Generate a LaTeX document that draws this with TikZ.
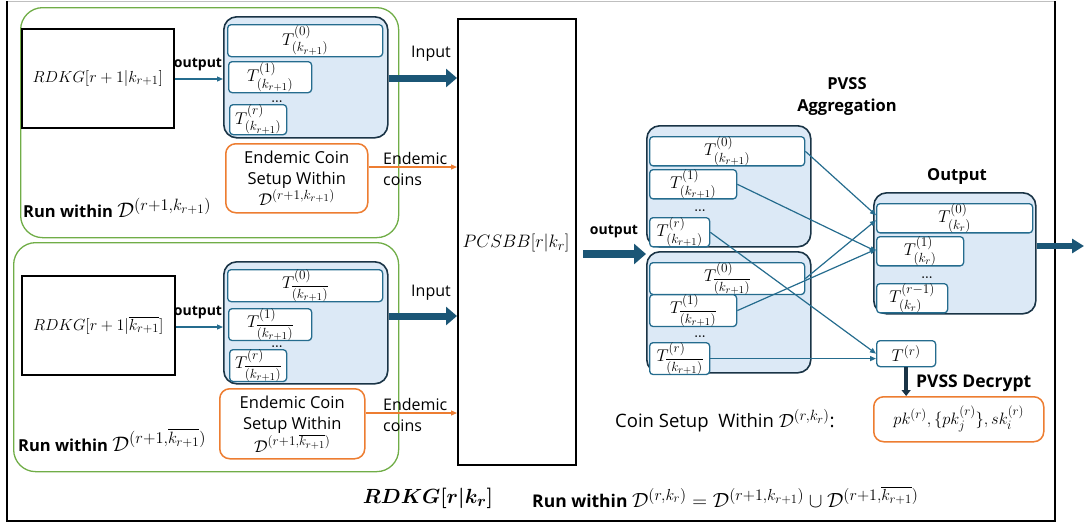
\RequirePackage{fix-cm}
\documentclass[tikz,border=0pt]{standalone}
\usepackage{amsmath,amssymb,bm}
\usepackage{fontspec}
\newfontfamily\osans{Open Sans}
\renewcommand{\defaultscriptratio}{.78}
\renewcommand{\defaultscriptscriptratio}{.62}
\usetikzlibrary{arrows.meta,calc}
\definecolor{grn}{HTML}{70AD47}
\definecolor{org}{HTML}{ED7D31}
\definecolor{lblue}{HTML}{DCE9F6}
\definecolor{navy}{HTML}{1A3446}
\definecolor{tblue}{HTML}{256C8E}
\definecolor{abl}{HTML}{1B5676}
\newcommand\boxat[7]{\node[#1,anchor=north west,inner sep=0pt,minimum width={(#5-#3)*1pt},minimum height={(#6-#4)*1pt}] (#2) at (#3,#4) {#7};}
\tikzset{
  greenbox/.style={draw=grn,line width=1.3pt,rounded corners=22pt},
  blackbox/.style={draw=black,line width=1.5pt,font=\fontsize{16}{19}\selectfont},
  cont/.style={draw=navy,line width=1.6pt,fill=lblue,rounded corners=13pt},
  tb/.style={draw=tblue,line width=1.3pt,fill=white,rounded corners=3.5pt,font=\fontsize{17}{20}\selectfont},
  orbox/.style={draw=org,line width=1.5pt,fill=white,rounded corners=10pt,align=center,font=\osans\fontsize{16.5}{21}\selectfont},
  lbl/.style={inner sep=0pt,font=\osans\fontsize{16}{21}\selectfont},
  blbl/.style={inner sep=0pt,font=\osans\bfseries\fontsize{16.5}{21}\selectfont},
  dotsl/.style={inner sep=0pt,text height=2pt,text depth=0pt,font=\bfseries\fontsize{12}{12}\selectfont},
  bigarrow/.style={draw=abl,line width=7pt,-{Triangle[length=11pt,width=18pt]}},
  thinarrow/.style={draw=tblue,line width=1.2pt,-{Triangle[length=6pt,width=5pt]}},
  orarrow/.style={draw=org,line width=1.2pt,-{Triangle[length=6pt,width=5pt]}},
  conn/.style={draw=tblue,line width=1.2pt,-{Triangle[length=6pt,width=5pt]}},
}
\begin{document}
\begin{tikzpicture}[x=1pt,y=-1pt]
\useasboundingbox (0,0) rectangle (1085,525);
% outer frame
\draw[black!25,line width=1pt] (7,1) -- (1055,1);
\draw[black,line width=1.4pt] (7,1) -- (7,521) -- (1055,521) -- (1055,1);

% green regions
\boxat{greenbox}{g1}{20}{7}{398}{237}{}
\boxat{greenbox}{g2}{13}{242}{398}{471}{}

% RDKG boxes
\boxat{blackbox}{r1}{21}{28}{173}{127}{$RDKG[r+1|k_{r+1}]$}
\boxat{blackbox}{r2}{21}{275}{174}{374}{$RDKG[r+1|\overline{k_{r+1}}]$}

% left containers
\boxat{cont}{c1}{223}{16}{387}{137}{}
\boxat{tb}{c1t0}{227}{24}{382}{56}{$T^{(0)}_{(k_{r+1})}$}
\boxat{tb}{c1t1}{228}{61}{311}{92}{$T^{(1)}_{(k_{r+1})}$}
\node[dotsl] (c1d) at (277,101) {...};
\boxat{tb}{c1tr}{229}{104}{286}{134}{$T^{(r)}_{(k_{r+1})}$}

\boxat{cont}{c2}{223}{261}{387}{383}{}
\boxat{tb}{c2t0}{227}{269}{382}{301}{$T^{(0)}_{\overline{(k_{r+1})}}$}
\boxat{tb}{c2t1}{228}{308}{311}{339}{$T^{(1)}_{\overline{(k_{r+1})}}$}
\node[dotsl] (c2d) at (277,346) {...};
\boxat{tb}{c2tr}{229}{349}{286}{378}{$T^{(r)}_{\overline{(k_{r+1})}}$}

% orange boxes
\boxat{orbox}{o1}{225}{143}{367}{212}{Endemic Coin\\Setup Within\\\fontsize{17}{20}\selectfont$\mathcal{D}^{(r+1,k_{r+1})}$}
\boxat{orbox}{o2}{219}{388}{364}{458}{Endemic Coin\\Setup Within\\\fontsize{17}{20}\selectfont$\mathcal{D}^{(r+1,\overline{k_{r+1}})}$}

% PCSBB
\boxat{blackbox}{p}{457}{18}{575}{464}{}
\node[inner sep=0pt,font=\fontsize{18}{21}\selectfont] (ptxt) at (516,243) {$PCSBB[r|k_r]$};

% aggregation containers
\boxat{cont}{a1}{646}{125}{810}{246}{}
\boxat{tb}{a1t0}{649}{136}{804}{165}{$T^{(0)}_{(k_{r+1})}$}
\boxat{tb}{a1t1}{649}{169}{736}{195}{$T^{(1)}_{(k_{r+1})}$}
\node[dotsl] (a1d) at (700,210) {...};
\boxat{tb}{a1tr}{649}{217}{709}{243}{$T^{(r)}_{(k_{r+1})}$}

\boxat{cont}{a2}{646}{251}{810}{372}{}
\boxat{tb}{a2t0}{649}{262}{804}{290}{$T^{(0)}_{\overline{(k_{r+1})}}$}
\boxat{tb}{a2t1}{649}{294}{736}{321}{$T^{(1)}_{\overline{(k_{r+1})}}$}
\node[dotsl] (a2d) at (700,336) {...};
\boxat{tb}{a2tr}{649}{342}{709}{368}{$T^{(r)}_{\overline{(k_{r+1})}}$}

% output container
\boxat{cont}{oc}{873}{192}{1035}{313}{}
\boxat{tb}{ot0}{876}{203}{1032}{231}{$T^{(0)}_{(k_r)}$}
\boxat{tb}{ot1}{876}{236}{963}{262}{$T^{(1)}_{(k_r)}$}
\node[dotsl] (od) at (927,277) {...};
\boxat{tb}{otr}{876}{283}{947}{310}{$T^{(r-1)}_{(k_r)}$}

% T^(r) and decrypt result
\boxat{tb}{tr}{876}{340}{935}{366}{$T^{(r)}$}
\boxat{orbox}{dec}{873}{396}{1043}{441}{\fontsize{16.5}{19}\selectfont$pk^{(r)},\{pk_j^{(r)}\},sk_i^{(r)}$}

% labels
\node[blbl,font=\osans\bfseries\fontsize{14}{17}\selectfont] (out1) at (198,65) {output};
\node[blbl,font=\osans\bfseries\fontsize{14}{17}\selectfont] (out2) at (198,313) {output};
\node[lbl] (in1) at (431,54) {Input};
\node[lbl] (in2) at (431,293) {Input};
\node[lbl,anchor=west,align=left] (ec1) at (383,169) {Endemic\\coins};
\node[lbl,anchor=west,align=left] (ec2) at (383,415) {Endemic\\coins};
\node[blbl,anchor=west] (rw1) at (23,208) {Run within \normalfont\fontsize{21}{23}\selectfont$\mathcal{D}^{(r+1,k_{r+1})}$};
\node[blbl,anchor=west] (rw2) at (18,440) {Run within \normalfont\fontsize{21}{23}\selectfont$\mathcal{D}^{(r+1,\overline{k_{r+1}})}$};
\node[blbl,font=\osans\bfseries\fontsize{14}{17}\selectfont] (out3) at (614,232) {output};
\node[blbl,align=center,font=\osans\bfseries\fontsize{16.5}{22}\selectfont] (pvss) at (847,97) {PVSS\\Aggregation};
\node[blbl] (outl) at (957,176) {Output};
\node[blbl,anchor=west,font=\osans\bfseries\fontsize{17.5}{21}\selectfont] (pdec) at (916,383) {PVSS Decrypt};
\node[lbl,anchor=west,font=\osans\fontsize{18.5}{21}\selectfont] (cs) at (615,421) {Coin Setup\ \ Within \fontsize{19}{21}\selectfont$\mathcal{D}^{(r,k_r)}$:};
\node[inner sep=0pt,font=\fontsize{20.5}{24}\selectfont] (rdkg) at (428,498) {$\bm{RDKG[r|k_r]}$};
\node[blbl,anchor=west,font=\osans\bfseries\fontsize{17.5}{21}\selectfont] (rwall) at (532,497) {Run within \normalfont\fontsize{20.5}{23}\selectfont$\mathcal{D}^{(r,k_r)}=\mathcal{D}^{(r+1,k_{r+1})}\cup\mathcal{D}^{(r+1,\overline{k_{r+1}})}$};

% arrows left
\draw[thinarrow] (r1.east |- 0,79) -- (c1.west |- 0,79);
\draw[thinarrow] (r2.east |- 0,327) -- (c2.west |- 0,327);
\draw[bigarrow] (c1.east |- 0,78) -- (p.west |- 0,78);
\draw[bigarrow] (c2.east |- 0,316) -- (p.west |- 0,316);
\draw[orarrow] (o1.east |- 0,167) -- (p.west |- 0,167);
\draw[orarrow] (o2.east |- 0,413) -- (p.west |- 0,413);

% middle
\coordinate (oa) at (583,254);
\draw[bigarrow,line width=8pt,-{Triangle[length=12pt,width=20pt]}] (oa) -- (oa -| a2.west);

% connectors
\draw[conn] (a1t0.east) -- ($(ot0.west)+(0,-3)$);
\draw[conn] (a2t0.east) -- ($(ot0.west)+(0,2)$);
\draw[conn] (a1t1.east) -- (ot1.west);
\draw[conn] (a2t1.east) -- ($(ot1.west)+(0,-2)$);
\draw[conn] (a1tr.east) -- (tr.west);
\draw[conn] (a2tr.east) -- (a2tr.east -| tr.west);

% right
\coordinate (oe) at (1084,246);
\draw[bigarrow,line width=6pt,-{Triangle[length=12pt,width=14pt]}] (oc.east |- oe) -- (oe);
\draw[draw=navy,line width=3.5pt,-{Triangle[length=6pt,width=9pt]}] (tr.south) -- (tr.south |- dec.north);
\end{tikzpicture}
\end{document}
